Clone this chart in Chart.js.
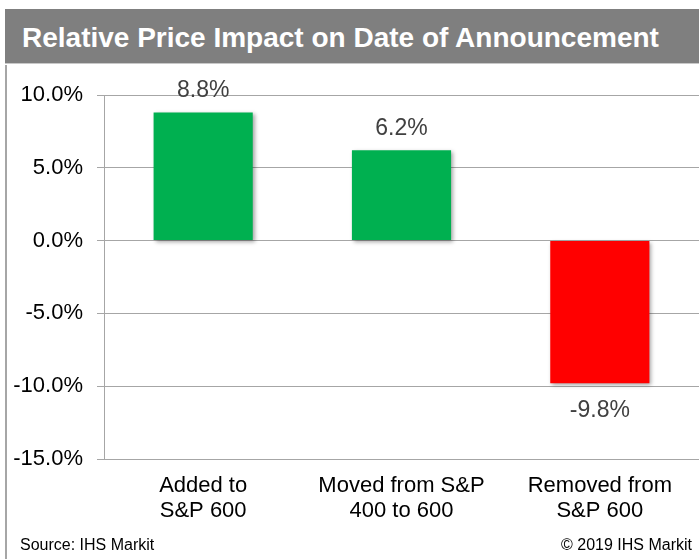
<!DOCTYPE html>
<html>
<head>
<meta charset="utf-8">
<script src="https://cdn.jsdelivr.net/npm/chart.js@4/dist/chart.umd.min.js"></script>
<style>
  body { margin: 0; background: #fff; font-family: "Liberation Sans", Arial, sans-serif; }
  #wrap { position: relative; width: 699px; height: 559px; overflow: hidden; }
  #title {
    position: absolute; left: 5px; top: 9px; width: 694px; height: 55px;
    background: #7f7f7f; border-bottom: 1px solid #c8c8c8;
    color: #fff; font-weight: bold; font-size: 28px; line-height: 57px;
    padding-left: 17px; box-sizing: border-box; white-space: nowrap;
  }
  #frame { position: absolute; left: 5px; top: 65px; width: 2px; height: 494px; background: #a6a6a6; }
  #chartBox { position: absolute; left: 7px; top: 65px; width: 692px; height: 494px; }
  .foot { position: absolute; top: 537px; font-size: 16px; line-height: 16px; color: #000; white-space: nowrap; }
  #source { left: 20px; }
  #copy { right: 7px; }
</style>
</head>
<body>
<div id="wrap">
  <div id="title">Relative Price Impact on Date of Announcement</div>
  <div id="frame"></div>
  <div id="chartBox"><canvas id="impactChart" width="692" height="494"></canvas></div>
  <div class="foot" id="source">Source: IHS Markit</div>
  <div class="foot" id="copy">© 2019 IHS Markit</div>
</div>
<script>
const categories = [
    ['Added to', 'S&P 600'],
    ['Moved from S&P', '400 to 600'],
    ['Removed from', 'S&P 600'],
];
const impactValues = [8.8, 6.2, -9.8];
const barColors = ['#00b050', '#00b050', '#ff0000'];
const yTicks = { min: -15, max: 10, step: 5 };

const FONT = '"Liberation Sans", Arial, sans-serif';
const gridGray = '#a6a6a6';

// sombra suave detras de las barras
const shadowPlugin = {
    id: 'shadowPlugin',
    beforeDatasetsDraw(chart) {
        const ctx = chart.ctx;
        ctx.save();
        ctx.shadowColor = 'rgba(0, 0, 0, 0.35)';
        ctx.shadowBlur = 4;
        ctx.shadowOffsetX = 2;
        ctx.shadowOffsetY = 2;
    },
    afterDatasetsDraw(chart) {
        chart.ctx.restore();
    },
};

// etiquetas de valor encima / debajo de cada barra
const valueLabels = {
    id: 'valueLabels',
    afterDatasetsDraw(chart) {
        const ctx = chart.ctx;
        const meta = chart.getDatasetMeta(0);
        ctx.save();
        ctx.font = '23px ' + FONT;
        ctx.fillStyle = '#404040';
        ctx.textAlign = 'center';
        ctx.textBaseline = 'alphabetic';
        meta.data.forEach((bar, i) => {
            const v = impactValues[i];
            const y = v >= 0 ? bar.y - 15 : bar.y + 34;
            ctx.fillText(v.toFixed(1) + '%', bar.x, y);
        });
        ctx.restore();
    },
};

new Chart(document.getElementById('impactChart').getContext('2d'), {
    type: 'bar',
    data: {
        labels: categories,
        datasets: [
            {
                data: impactValues,
                backgroundColor: barColors,
                borderWidth: 0,
                categoryPercentage: 0.5,
                barPercentage: 1,
            },
        ],
    },
    options: {
        responsive: false,
        animation: false,
        layout: { padding: { top: 30, right: 0, bottom: 0, left: 0 } },
        plugins: {
            legend: { display: false },
            tooltip: { enabled: false },
        },
        scales: {
            x: {
                grid: { display: false, drawTicks: false },
                border: { display: false },
                ticks: {
                    color: '#000',
                    padding: 14,
                    font: { family: FONT, size: 22, lineHeight: 1.15 },
                    maxRotation: 0,
                    autoSkip: false,
                },
                afterFit(scale) { scale.height = 100; },
            },
            y: {
                min: yTicks.min,
                max: yTicks.max,
                grid: { color: gridGray, lineWidth: 1, tickLength: 7 },
                border: { display: true, color: gridGray, width: 1 },
                ticks: {
                    stepSize: yTicks.step,
                    color: '#000',
                    padding: 14,
                    font: { family: FONT, size: 22 },
                    callback: (v) => v.toFixed(1) + '%',
                },
                afterFit(scale) { scale.width = 97; },
            },
        },
    },
    plugins: [shadowPlugin, valueLabels],
});
</script>
</body>
</html>
